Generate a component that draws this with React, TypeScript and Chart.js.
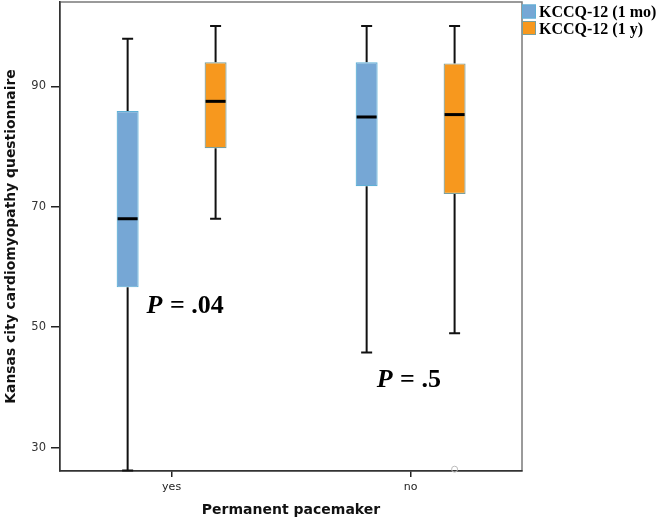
import React, { useEffect, useRef } from "react";
import { Chart, registerables } from "chart.js";

Chart.register(...registerables);

const categories = ["yes", "no"];
const seriesLabels = ["KCCQ-12 (1 mo)", "KCCQ-12 (1 y)"];

const monthMin = [26.2, 45.8];
const monthQ1 = [56.6, 73.4];
const monthMedian = [68.0, 84.9];
const monthQ3 = [85.9, 94.0];
const monthMax = [97.9, 100.0];

const yearMin = [68.0, 49.0];
const yearQ1 = [79.7, 72.1];
const yearMedian = [87.5, 85.3];
const yearQ3 = [94.0, 93.8];
const yearMax = [100.0, 100.0];
const yearOutliers = [[], [26.4]];
const monthOutliers = [[], []];

const yTicks = [30, 50, 70, 90];

const pValueText = [".04", ".5"];
const pValueX = [-0.105, 0.858];
const pValueY = [52.4, 40.0];

const BLUE = "#76a7d5";
const BLUE_BORDER = "#5fb0d6";
const ORANGE = "#f7981e";
const ORANGE_BORDER = "#7a9f9c";

const stats = [
  { min: monthMin, q1: monthQ1, med: monthMedian, q3: monthQ3, max: monthMax, out: monthOutliers },
  { min: yearMin, q1: yearQ1, med: yearMedian, q3: yearQ3, max: yearMax, out: yearOutliers },
];

const boxPlugin = {
  id: "boxExtras",
  beforeDraw(chart: any) {
    const { ctx, chartArea: a } = chart;
    ctx.save();
    ctx.strokeStyle = "#7a7a7a";
    ctx.lineWidth = 1.5;
    ctx.strokeRect(a.left, a.top, a.right - a.left, a.bottom - a.top);
    ctx.restore();
  },
  beforeDatasetsDraw(chart: any) {
    const { ctx } = chart;
    const y = chart.scales.y;
    ctx.save();
    ctx.strokeStyle = "#111";
    ctx.lineWidth = 2;
    stats.forEach((s, di) => {
      const meta = chart.getDatasetMeta(di);
      meta.data.forEach((bar: any, i: number) => {
        const x = bar.x;
        const yMin = y.getPixelForValue(s.min[i]);
        const yMax = y.getPixelForValue(s.max[i]);
        const yQ1 = y.getPixelForValue(s.q1[i]);
        const yQ3 = y.getPixelForValue(s.q3[i]);
        ctx.beginPath();
        ctx.moveTo(x, yQ3);
        ctx.lineTo(x, yMax);
        ctx.moveTo(x - 5.5, yMax);
        ctx.lineTo(x + 5.5, yMax);
        ctx.moveTo(x, yQ1);
        ctx.lineTo(x, yMin);
        ctx.moveTo(x - 5.5, yMin);
        ctx.lineTo(x + 5.5, yMin);
        ctx.stroke();
      });
    });
    ctx.restore();
  },
  afterDatasetsDraw(chart: any) {
    const { ctx } = chart;
    const xs = chart.scales.x;
    const y = chart.scales.y;
    ctx.save();
    stats.forEach((s, di) => {
      const meta = chart.getDatasetMeta(di);
      meta.data.forEach((bar: any, i: number) => {
        const x = bar.x;
        const w = bar.width;
        const ym = y.getPixelForValue(s.med[i]);
        ctx.strokeStyle = "#000";
        ctx.lineWidth = 3;
        ctx.beginPath();
        ctx.moveTo(x - w / 2 + 1, ym);
        ctx.lineTo(x + w / 2 - 1, ym);
        ctx.stroke();
        s.out[i].forEach((v: number) => {
          ctx.strokeStyle = "#bbb";
          ctx.lineWidth = 1;
          ctx.beginPath();
          ctx.arc(x, y.getPixelForValue(v), 3, 0, Math.PI * 2);
          ctx.stroke();
        });
      });
    });
    // P-value annotations
    ctx.fillStyle = "#000";
    ctx.textBaseline = "alphabetic";
    ctx.textAlign = "left";
    pValueText.forEach((t, i) => {
      const px = xs.getPixelForValue(pValueX[i]);
      const py = y.getPixelForValue(pValueY[i]);
      ctx.font = "italic bold 26px 'Liberation Serif'";
      ctx.fillText("P", px, py);
      const pw = ctx.measureText("P").width;
      ctx.font = "bold 26px 'Liberation Serif'";
      ctx.fillText(" = " + t, px + pw + 1, py);
    });
    // legend
    const a = chart.chartArea;
    const colors = [BLUE, ORANGE];
    const borders = [BLUE_BORDER, ORANGE_BORDER];
    ctx.font = "bold 16px 'Liberation Serif'";
    seriesLabels.forEach((lab, i) => {
      const top = 4.5 + i * 16.5;
      ctx.fillStyle = colors[i];
      ctx.fillRect(a.right, top, 14, 14);
      ctx.strokeStyle = borders[i];
      ctx.lineWidth = 1;
      ctx.strokeRect(a.right + 0.5, top + 0.5, 13, 13);
      ctx.fillStyle = "#000";
      ctx.fillText(lab, a.right + 17, top + 12.5);
    });
    ctx.restore();
  },
};

export default function App() {
  const ref = useRef<HTMLCanvasElement>(null);
  useEffect(() => {
    document.body.style.margin = "0";
    const datasets = stats.map((s, di) => ({
      label: seriesLabels[di],
      data: categories.map((_, i) => ({ x: i, y: [s.q1[i], s.q3[i]] })),
      backgroundColor: di === 0 ? BLUE : ORANGE,
      borderColor: di === 0 ? BLUE_BORDER : ORANGE_BORDER,
      borderWidth: 1.2,
      borderSkipped: false,
      categoryPercentage: 0.736,
      barPercentage: 0.25,
    }));
    const chart = new Chart(ref.current as HTMLCanvasElement, {
      type: "bar",
      data: { datasets } as any,
      options: {
        responsive: false,
        animation: false,
        devicePixelRatio: 1,
        layout: { padding: { top: 2, right: 135, left: 0, bottom: 0 } },
        plugins: { legend: { display: false }, tooltip: { enabled: false } },
        scales: {
          x: {
            type: "linear",
            offset: false,
            min: -0.467,
            max: 1.466,
            afterBuildTicks: (s: any) => {
              s.ticks = categories.map((_, i) => ({ value: i }));
            },
            afterFit: (s: any) => {
              s.height = 48;
              s.paddingLeft = 0;
              s.paddingRight = 0;
            },
            ticks: {
              callback: (v: any) => categories[v] ?? "",
              color: "#222",
              font: { family: "'DejaVu Sans'", size: 11 },
              padding: 4,
              maxRotation: 0,
            },
            grid: { offset: false, drawOnChartArea: false, drawTicks: true, tickLength: 6, color: "#222", lineWidth: 1.5 },
            border: { display: true, color: "#333", width: 1.5 },
            title: {
              display: true,
              text: "Permanent pacemaker",
              color: "#111",
              font: { family: "'DejaVu Sans'", size: 14, weight: "bold" },
              padding: { top: 3, bottom: 0 },
            },
          },
          y: {
            min: 26.1,
            max: 104,
            afterBuildTicks: (s: any) => {
              s.ticks = yTicks.map((v) => ({ value: v }));
            },
            afterFit: (s: any) => {
              s.width = 60;
              s.paddingTop = 0;
              s.paddingBottom = 0;
            },
            ticks: {
              color: "#333",
              font: { family: "'DejaVu Sans'", size: 11.5 },
              padding: 5,
            },
            grid: { drawOnChartArea: false, drawTicks: true, tickLength: 9, color: "#222", lineWidth: 1.5 },
            border: { display: true, color: "#333", width: 1.5 },
            title: {
              display: true,
              text: "Kansas city cardiomyopathy questionnaire",
              color: "#111",
              font: { family: "'DejaVu Sans'", size: 13.9, weight: "bold" },
              padding: { top: 3, bottom: 0 },
            },
          },
        },
      },
      plugins: [boxPlugin],
    } as any);
    return () => chart.destroy();
  }, []);
  return (
    <div style={{ width: 657, height: 519 }}>
      <canvas ref={ref} width={657} height={519} style={{ display: "block" }} />
    </div>
  );
}
